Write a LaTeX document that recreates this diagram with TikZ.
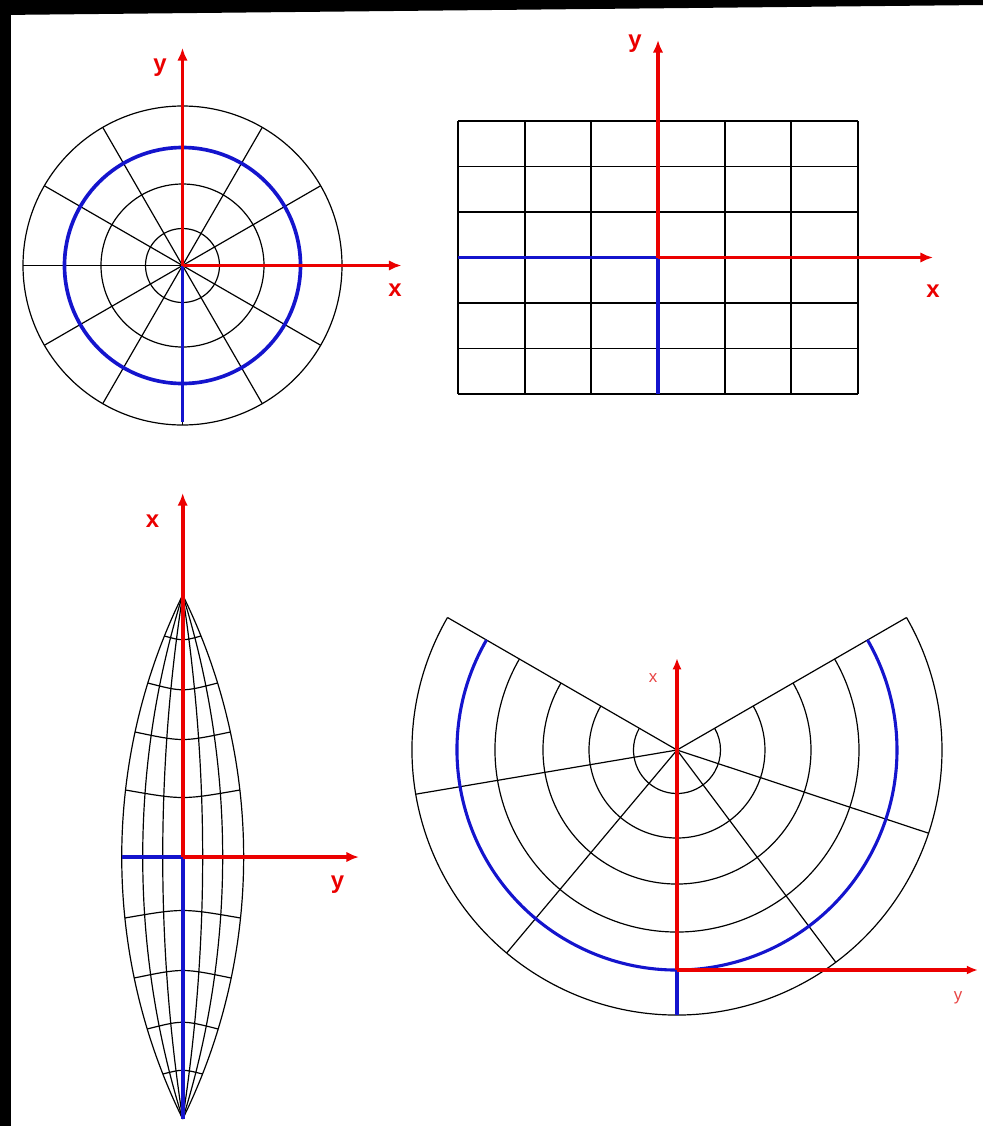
\documentclass[tikz,border=0pt]{standalone}
\usepackage{fontspec}
\setmainfont{Liberation Sans}
\usetikzlibrary{arrows.meta}
\definecolor{axred}{RGB}{235,0,0}
\definecolor{axblue}{RGB}{20,20,205}
\definecolor{lbred}{RGB}{232,70,70}
\begin{document}
\begin{tikzpicture}[x=0.025cm,y=-0.025cm,
  gridline/.style={black, line width=0.85pt},
  gridthick/.style={black, line width=1.3pt},
  axisarrow/.style={axred, line width=2.6pt, -{Latex[length=9pt,width=7.5pt]}},
  axisthin/.style={axred, line width=2.2pt, -{Latex[length=8pt,width=6.5pt]}},
  blueline/.style={axblue, line width=2.6pt},
  bluethin/.style={axblue, line width=2.2pt},
  biglabel/.style={text=axred, font=\fontsize{17}{20}\selectfont\bfseries, inner sep=0pt},
  smalllabel/.style={text=lbred, font=\fontsize{12}{14}\selectfont, inner sep=0pt}]
\useasboundingbox (0,0) rectangle (983,1126);
\fill[white] (0,0) rectangle (983,1126);
\fill[black] (0,0) -- (983,0) -- (983,5) -- (0,15) -- cycle;
\fill[black] (0,0) rectangle (11,1126);

% ---------- panel 1: polar ----------
\coordinate (o1) at (182.5,265.5);
\coordinate (x1) at (401.5,265.5);
\coordinate (y1) at (182.5,48);
\coordinate (b1) at (182.5,421.5);
\foreach \r in {37,81.5,159.5} \draw[gridline] (o1) circle[radius=\r];
\foreach \a in {0,30,...,330} \draw[gridline] (o1) -- ++(\a:159.5);
\draw[blueline] (o1) circle[radius=118];
\draw[blueline] (o1) -- (b1);
\draw[axisarrow] (o1) -- (x1);
\draw[axisarrow] (o1) -- (y1);
\node[biglabel] (ly1) at (160,68) {y};
\node[biglabel] (lx1) at (395,290.5) {x};

% ---------- panel 2: rectangular grid ----------
\coordinate (o2) at (658,257.5);
\coordinate (x2) at (933,257.5);
\coordinate (y2) at (658,40);
\coordinate (l2) at (458,257.5);
\coordinate (d2) at (658,394);
\foreach \i in {0,...,6} \draw[gridthick] ({458+66.667*\i},121) -- ({458+66.667*\i},394);
\foreach \j in {0,...,6} \draw[gridthick] (458,{121+45.5*\j}) -- (858,{121+45.5*\j});
\draw[blueline] (o2) -- (l2);
\draw[blueline] (o2) -- (d2);
\draw[axisarrow] (o2) -- (x2);
\draw[axisarrow] (o2) -- (y2);
\node[biglabel] (ly2) at (635,44) {y};
\node[biglabel] (lx2) at (933,291) {x};

% ---------- panel 3: lens ----------
\coordinate (o3) at (182.7,857);
\coordinate (t3) at (182.7,595);
\coordinate (s3) at (182.7,1119);
\coordinate (x3) at (182.7,493);
\coordinate (y3) at (359,857);
\coordinate (l3) at (121.7,857);
\draw[gridline] (t3) -- (s3);
\foreach \b/\R in {8.73/1726.1, 17.36/878.05, 26.21/593.16}{
  \draw[gridline] (t3) arc[start angle=-\b, end angle=\b, radius=\R];
  \draw[gridline] (t3) arc[start angle=180+\b, end angle=180-\b, radius=\R];
}
\foreach \y/\w/\c in {790/57.2/800, 732/47.68/742, 683/34.91/692, 636/18.29/641,
                      918/57.86/908, 978/48.53/968, 1029/35.52/1020, 1074/19.88/1069}
  \draw[gridline] ({182.7-\w},\y) .. controls (182.7,\c) .. ({182.7+\w},\y);
\draw[blueline] (o3) -- (l3);
\draw[blueline] (o3) -- (s3);
\draw[axisarrow] (o3) -- (y3);
\draw[axisarrow] (o3) -- (x3);
\node[biglabel] (lx3) at (152.5,521) {x};
\node[biglabel] (ly3) at (337.5,885) {y};

% ---------- panel 4: fan ----------
\coordinate (a4) at (677,750);
\coordinate (o4) at (677,970);
\coordinate (x4) at (677,658);
\coordinate (y4) at (978,970);
\coordinate (d4) at (677,1015);
\foreach \r in {43.5,88,134,182,265}
  \draw[gridline] (a4) ++(210:\r) arc[start angle=210, end angle=-30, radius=\r];
\foreach \a in {210,170.4,130,90,53.2,18.3,-30}
  \draw[gridline] (a4) -- ++(\a:265);
\draw[bluethin] (a4) ++(210:220) arc[start angle=210, end angle=-30, radius=220];
\draw[bluethin] (o4) -- (d4);
\draw[axisthin] (o4) -- (y4);
\draw[axisthin] (o4) -- (x4);
\node[smalllabel] (lx4) at (653,678) {x};
\node[smalllabel] (ly4) at (958,997.5) {y};
\end{tikzpicture}
\end{document}
